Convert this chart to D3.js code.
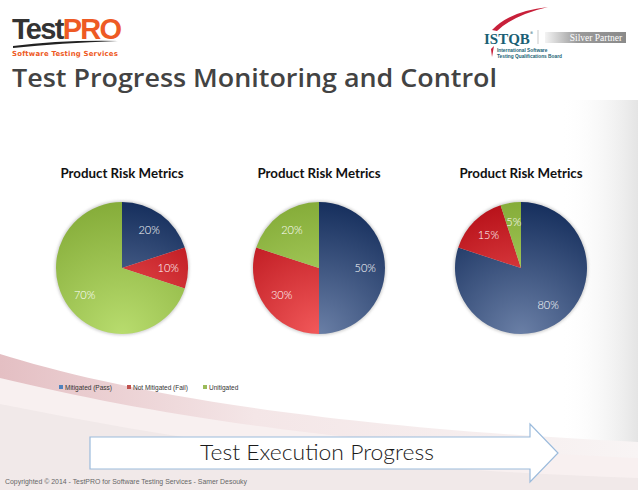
<!DOCTYPE html>
<html>
<head>
<meta charset="utf-8">
<script src="https://cdn.jsdelivr.net/npm/d3@7"></script>
<style>
  body { margin: 0; background: #fff; }
  svg { display: block; }
</style>
</head>
<body>
<svg id="chart" width="638" height="490"></svg>
<script>
// chart data
const categories = ['Mitigated (Pass)', 'Not Mitigated (Fail)', 'Unitigated']
const chartTitles = ['Product Risk Metrics', 'Product Risk Metrics', 'Product Risk Metrics']
const seriesA = [20, 10, 70]
const seriesB = [50, 30, 20]
const seriesC = [80, 15, 5]
const seriesList = [seriesA, seriesB, seriesC]

const colors = [
  { dark: '#17305e', light: '#6a7fa6' },
  { dark: '#b8121a', light: '#f2595a' },
  { dark: '#86ad3a', light: '#b8dc6e' }
]

const svg = d3.select('#chart')
const defs = svg.append('defs')

// background pink swoosh at bottom
const bg = defs.append('linearGradient').attr('id', 'swoosh')
  .attr('x1', 0).attr('y1', 0).attr('x2', 1).attr('y2', 0)
bg.append('stop').attr('offset', 0).attr('stop-color', '#e4bfc3')
bg.append('stop').attr('offset', 0.4).attr('stop-color', '#f4e6e7')
bg.append('stop').attr('offset', 1).attr('stop-color', '#f8f4f4')

const side = defs.append('linearGradient').attr('id', 'side')
  .attr('x1', 0).attr('y1', 0).attr('x2', 1).attr('y2', 0)
side.append('stop').attr('offset', 0).attr('stop-color', '#fff').attr('stop-opacity', 0)
side.append('stop').attr('offset', 1).attr('stop-color', '#e4e4e4')

svg.append('rect').attr('x', 560).attr('y', 100).attr('width', 78).attr('height', 390)
  .attr('fill', 'url(#side)')

svg.append('path')
  .attr('d', 'M0,354 C100,385 280,425 638,442 L638,490 L0,490 Z')
  .attr('fill', 'url(#swoosh)')
svg.append('path')
  .attr('d', 'M0,378 C150,414 330,444 638,458 L638,490 L0,490 Z')
  .attr('fill', '#f8f0f0')
svg.append('path')
  .attr('d', 'M0,404 C200,444 380,470 638,478 L638,490 L0,490 Z')
  .attr('fill', '#f1e9e9')

// ---- TestPRO logo ----
const logo = svg.append('text').attr('x', 12).attr('y', 39)
  .attr('font-family', 'Liberation Sans, Arial, sans-serif')
  .attr('font-weight', 'bold').attr('font-size', 29).attr('letter-spacing', -1.7)
logo.append('tspan').attr('fill', '#333').text('Test')
logo.append('tspan').attr('fill', '#ee5a24').text('PRO')
svg.append('path').attr('d', 'M13,46 Q60,40 118,41 Q60,43 13,48 Z').attr('fill', '#222')
svg.append('text').attr('x', 12).attr('y', 56)
  .attr('font-family', 'DejaVu Sans, sans-serif').attr('font-size', 7)
  .attr('font-weight', 'bold').attr('letter-spacing', 0.2)
  .attr('textLength', 106).attr('lengthAdjust', 'spacingAndGlyphs')
  .attr('fill', '#ee5a24').text('Software Testing Services')

// ---- ISTQB logo ----
svg.append('path').attr('d', 'M492,30 Q510,11 548,7 Q514,15 497,31 Z').attr('fill', '#c8203a')
const istqb = svg.append('text').attr('x', 484).attr('y', 44)
  .attr('font-family', 'Liberation Serif, serif').attr('font-weight', 'bold')
  .attr('font-size', 15).attr('fill', '#1a5f74').text('ISTQB')
const istqbEnd = 484 + istqb.node().getComputedTextLength()
svg.append('text').attr('x', istqbEnd).attr('y', 34)
  .attr('font-family', 'DejaVu Sans, sans-serif').attr('font-size', 3.5).attr('fill', '#1a5f74').text('®')
svg.append('line').attr('x1', 538).attr('x2', 538).attr('y1', 30).attr('y2', 44)
  .attr('stroke', '#bbb').attr('stroke-width', 0.8)
const sp = defs.append('linearGradient').attr('id', 'silver')
  .attr('x1', 0).attr('y1', 0).attr('x2', 1).attr('y2', 0)
sp.append('stop').attr('offset', 0).attr('stop-color', '#f4f4f4')
sp.append('stop').attr('offset', 0.4).attr('stop-color', '#9a9a9a')
sp.append('stop').attr('offset', 1).attr('stop-color', '#8a8a8a')
svg.append('rect').attr('x', 545).attr('y', 32).attr('width', 81).attr('height', 11)
  .attr('fill', 'url(#silver)')
svg.append('text').attr('x', 596).attr('y', 40.5).attr('text-anchor', 'middle')
  .attr('font-family', 'Liberation Serif, serif').attr('font-size', 9.5)
  .attr('fill', '#fff').text('Silver Partner')
svg.append('path').attr('d', 'M491,49 L494,46 L492,57 Z').attr('fill', '#c8203a')
svg.append('text').attr('x', 497).attr('y', 52)
  .attr('font-family', 'Liberation Sans, sans-serif').attr('font-weight', 'bold')
  .attr('font-size', 4.8).attr('fill', '#1a5f74').text('International Software')
svg.append('text').attr('x', 497).attr('y', 57.5)
  .attr('font-family', 'Liberation Sans, sans-serif').attr('font-weight', 'bold')
  .attr('font-size', 4.8).attr('fill', '#1a5f74').text('Testing Qualifications Board')

// ---- Slide title ----
svg.append('text').attr('x', 12).attr('y', 87)
  .attr('font-family', 'Open Sans, DejaVu Sans, sans-serif').attr('font-size', 26)
  .attr('font-weight', 600)
  .attr('textLength', 485).attr('lengthAdjust', 'spacingAndGlyphs')
  .attr('fill', '#434343').text('Test Progress Monitoring and Control')

// ---- gradients for slices ----
colors.forEach((c, i) => {
  const g = defs.append('radialGradient').attr('id', 'slice' + i)
    .attr('gradientUnits', 'userSpaceOnUse')
    .attr('cx', 0).attr('cy', 66).attr('r', 130)
    .attr('fx', 0).attr('fy', 66)
  g.append('stop').attr('offset', 0).attr('stop-color', c.light)
  g.append('stop').attr('offset', 1).attr('stop-color', c.dark)
})

const soft = defs.append('filter').attr('id', 'soft')
  .attr('x', '-20%').attr('y', '-20%').attr('width', '140%').attr('height', '140%')
soft.append('feGaussianBlur').attr('stdDeviation', 1.5)

// ---- pies ----
const centers = [122, 319, 521]
const cy = 268
const radius = 66

const pie = d3.pie().sort(null).value(d => d)
const arc = d3.arc().innerRadius(0).outerRadius(radius)
const labelArc = d3.arc().innerRadius(radius * 0.7).outerRadius(radius * 0.7)

seriesList.forEach((series, k) => {
  const g = svg.append('g').attr('transform', `translate(${centers[k]},${cy})`)

  svg.append('text').attr('x', centers[k]).attr('y', 178)
    .attr('text-anchor', 'middle')
    .attr('font-family', 'Lato, sans-serif').attr('font-weight', 'bold')
    .attr('font-size', 13.3).attr('fill', '#111').text(chartTitles[k])

  g.append('circle').attr('r', radius + 1).attr('fill', '#999')
    .attr('opacity', 0.5).attr('filter', 'url(#soft)')

  const arcs = pie(series)
  g.selectAll('path.slice').data(arcs).join('path')
    .attr('class', 'slice')
    .attr('d', arc)
    .attr('fill', (d, i) => `url(#slice${i})`)

  g.selectAll('text.pct').data(arcs).join('text')
    .attr('class', 'pct')
    .attr('transform', d => `translate(${labelArc.centroid(d)})`)
    .attr('text-anchor', 'middle').attr('dy', '0.35em')
    .attr('font-family', 'Lato, sans-serif').attr('font-weight', 300)
    .attr('font-size', 11).attr('fill', '#fff')
    .text(d => d.data + '%')
})

// ---- legend ----
const legendX = [59, 127, 203]
const legend = svg.append('g')
legend.selectAll('rect').data(categories).join('rect')
  .attr('x', (d, i) => legendX[i]).attr('y', 385)
  .attr('width', 4).attr('height', 4)
  .attr('fill', (d, i) => ['#4f81bd', '#c0504d', '#9bbb59'][i])
legend.selectAll('text').data(categories).join('text')
  .attr('x', (d, i) => legendX[i] + 6).attr('y', 389.5)
  .attr('font-family', 'Liberation Sans, sans-serif').attr('font-size', 6.5)
  .attr('fill', '#333').text(d => d)

// ---- progress arrow ----
svg.append('path')
  .attr('d', 'M90,437 L530,437 L530,424 L558,453 L530,482 L530,469 L90,469 Z')
  .attr('fill', '#fff').attr('stroke', '#9bbbdc').attr('stroke-width', 1.2)
svg.append('text').attr('x', 317).attr('y', 460).attr('text-anchor', 'middle')
  .attr('font-family', 'Lato, sans-serif').attr('font-size', 21).attr('font-weight', 300)
  .attr('textLength', 234).attr('lengthAdjust', 'spacingAndGlyphs')
  .attr('fill', '#1a1a1a').text('Test Execution Progress')

// ---- footer ----
svg.append('text').attr('x', 5).attr('y', 484)
  .attr('font-family', 'Liberation Sans, sans-serif').attr('font-size', 6.3)
  .attr('textLength', 242).attr('lengthAdjust', 'spacingAndGlyphs')
  .attr('fill', '#666')
  .text('Copyrighted © 2014 - TestPRO for Software Testing Services - Samer Desouky')
</script>
</body>
</html>
